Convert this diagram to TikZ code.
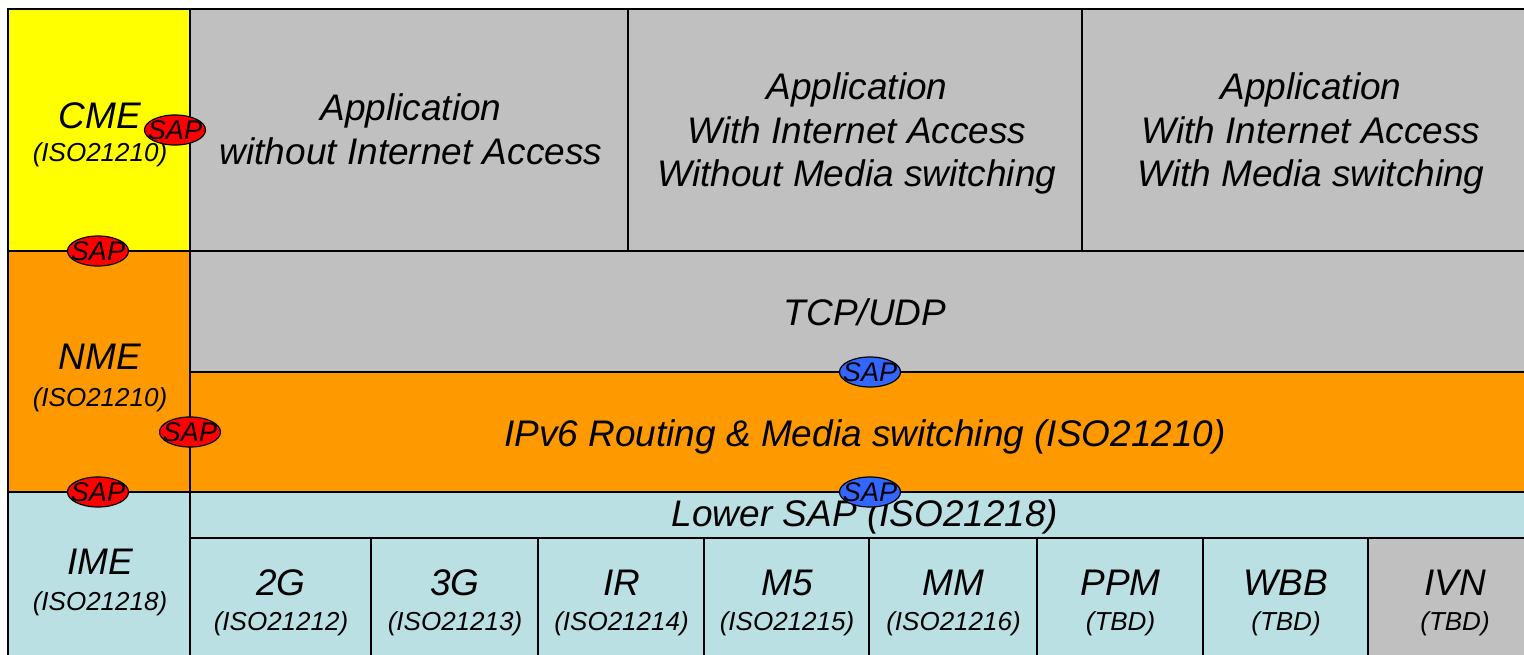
\documentclass[tikz,border=0pt]{standalone}
\usepackage{fontspec}
\setmainfont{Liberation Sans}
\usetikzlibrary{shapes.geometric}
\definecolor{cgray}{HTML}{C0C0C0}
\definecolor{cyel}{HTML}{FFFF00}
\definecolor{corange}{HTML}{FF9900}
\definecolor{clblue}{HTML}{BBE0E3}
\definecolor{cred}{HTML}{FF0000}
\definecolor{cblue}{HTML}{3366FF}
\newcommand\mkcell[6]{\node[cellbox, fill=#6, minimum width={#4-#2}, minimum height={#5-#3}] (#1) at (#2,#3) {};}
\tikzset{
 cellbox/.style={draw=black, line width=2pt, rectangle, inner sep=0pt, outer sep=0pt, anchor=north west},
 big/.style={font=\fontsize{37}{44}\selectfont\itshape, anchor=base, inner sep=0pt},
 small/.style={font=\fontsize{26}{30}\selectfont\itshape, anchor=base, inner sep=0pt},
 sapshape/.style={ellipse, draw=black, line width=1.2pt, minimum width=61pt, minimum height=30pt, inner sep=0pt, font=\fontsize{27}{30}\selectfont\itshape},
}
\begin{document}
\begin{tikzpicture}[x=1pt, y=-1pt]
\useasboundingbox (0,0) rectangle (1524,655);
\clip (0,0) rectangle (1524,655);
% cells
\mkcell{cme}{8}{9}{190}{251}{cyel}
\mkcell{nme}{8}{251}{190}{492}{corange}
\mkcell{ime}{8}{492}{190}{670}{clblue}
\mkcell{appA}{190}{9}{628}{251}{cgray}
\mkcell{appB}{628}{9}{1082}{251}{cgray}
\mkcell{appC}{1082}{9}{1540}{251}{cgray}
\mkcell{tcp}{190}{251}{1540}{372}{cgray}
\mkcell{ipv}{190}{372}{1540}{492}{corange}
\mkcell{lsap}{190}{492}{1540}{538}{clblue}
\mkcell{bA}{190}{538}{371}{670}{clblue}
\mkcell{bB}{371}{538}{538}{670}{clblue}
\mkcell{bC}{538}{538}{704}{670}{clblue}
\mkcell{bD}{704}{538}{869}{670}{clblue}
\mkcell{bE}{869}{538}{1037}{670}{clblue}
\mkcell{bF}{1037}{538}{1203}{670}{clblue}
\mkcell{bG}{1203}{538}{1368}{670}{clblue}
\mkcell{bH}{1368}{538}{1540}{670}{cgray}
% texts
\node[big] (tcme) at (100,128.3) {CME};
\node[small] (tcmes) at (100,162) {(ISO21210)};
\node[big] (tnme) at (100,369.3) {NME};
\node[small] (tnmes) at (100,406) {(ISO21210)};
\node[big] (time) at (100,574.3) {IME};
\node[small] (times) at (100,610.5) {(ISO21218)};
\node[big] (tA1) at (411,120.7) {Application};
\node[big] (tA2) at (411,164.2) {without Internet Access};
\node[big] (tB1) at (857,100) {Application};
\node[big] (tB2) at (857,143.5) {With Internet Access};
\node[big] (tB3) at (857,187) {Without Media switching};
\node[big] (tC1) at (1311,100) {Application};
\node[big] (tC2) at (1311,143.5) {With Internet Access};
\node[big] (tC3) at (1311,187) {With Media switching};
\node[big] (ttcp) at (865,325) {TCP/UDP};
\node[big] (tipv) at (865,446) {IPv6 Routing \& Media switching (ISO21210)};
\node[big] (tlsap) at (865,526) {Lower SAP (ISO21218)};
\node[big] (tbA) at (281,595.5) {2G};
\node[small] (tbAs) at (281,630) {(ISO21212)};
\node[big] (tbB) at (455,595.5) {3G};
\node[small] (tbBs) at (455,630) {(ISO21213)};
\node[big] (tbC) at (621.5,595.5) {IR};
\node[small] (tbCs) at (621.5,630) {(ISO21214)};
\node[big] (tbD) at (787,595.5) {M5};
\node[small] (tbDs) at (787,630) {(ISO21215)};
\node[big] (tbE) at (953.5,595.5) {MM};
\node[small] (tbEs) at (953.5,630) {(ISO21216)};
\node[big] (tbF) at (1120.5,595.5) {PPM};
\node[small] (tbFs) at (1120.5,630) {(TBD)};
\node[big] (tbG) at (1286,595.5) {WBB};
\node[small] (tbGs) at (1286,630) {(TBD)};
\node[big] (tbH) at (1455,595.5) {IVN};
\node[small] (tbHs) at (1455,630) {(TBD)};
% SAPs
\node[sapshape, fill=cred] (s1) at (175,130) {\makebox[0pt]{SAP}};
\node[sapshape, fill=cred] (s2) at (98,251) {\makebox[0pt]{SAP}};
\node[sapshape, fill=cred] (s3) at (190,432) {\makebox[0pt]{SAP}};
\node[sapshape, fill=cred] (s4) at (98,492) {\makebox[0pt]{SAP}};
\node[sapshape, fill=cblue] (s5) at (870,372) {\makebox[0pt]{SAP}};
\node[sapshape, fill=cblue] (s6) at (870,492) {\makebox[0pt]{SAP}};
\end{tikzpicture}
\end{document}
